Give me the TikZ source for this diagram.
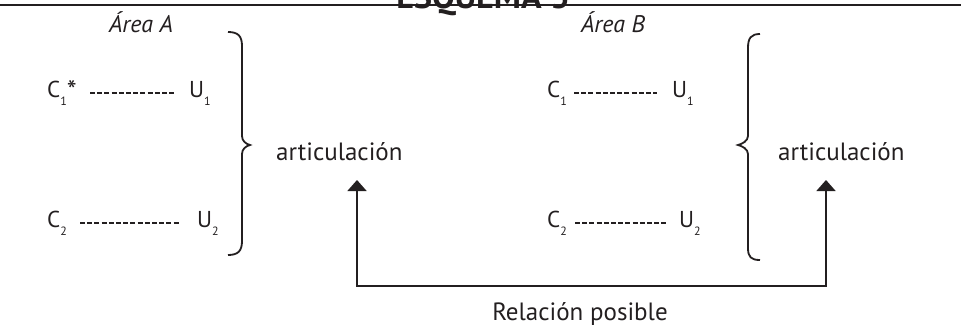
\documentclass[tikz,border=0pt]{standalone}
\usepackage{fontspec}
\setmainfont{PT Sans}
\usetikzlibrary{arrows.meta, positioning}
\definecolor{ink}{RGB}{35,31,32}
\newcommand{\lowidx}[1]{\raisebox{-8pt}{\fontsize{12}{12}\selectfont #1}}
\newcommand{\bigstar}{\raisebox{-3pt}{\fontsize{28}{28}\selectfont *}}
\tikzset{
  word_font/.style = {font=\fontsize{25}{30}\selectfont},
  term_font/.style = {font=\fontsize{23}{27}\selectfont},
  area_font/.style = {font=\fontsize{24}{29}\selectfont\itshape},
  title_font/.style = {font=\fontsize{34}{40}\selectfont\bfseries}
}
\tikzset{
  title/.style = {title_font, inner sep=0, anchor=base},
  area/.style = {area_font, inner sep=0, anchor=base},
  term/.style = {term_font, inner sep=0, anchor=base west},
  word/.style = {word_font, inner sep=0, anchor=base west},
  link/.style = {dash pattern=on 5pt off 2.2pt, line width=1.1pt},
  brace/.style = {line width=1.8pt},
  relation/.style = {line width=1.7pt,
    {Triangle[width=19pt, length=11pt]}-{Triangle[width=19pt, length=11pt]}}
}
\begin{document}
\begin{tikzpicture}[x=1pt, y=-1pt, color=ink, text=ink]
    \useasboundingbox (0,0) rectangle (961,329);

    % Heading
    \draw[line width=1.4pt] (0,5) -- (961,5);
    \node[title] (head) at (483,9) {ESQUEMA 3};

    % Areas
    \node[area] (area_a) at (141,33) {Área A};
    \node[area] (area_b) at (613,33) {Área B};

    % Terms of area A
    \node[term] (c1_a) at (47,97) {C\lowidx{1}\bigstar};
    \node[term] (u1_a) at (189,97) {U\lowidx{1}};
    \node[term] (c2_a) at (47,227) {C\lowidx{2}};
    \node[term] (u2_a) at (197,227) {U\lowidx{2}};

    % Terms of area B
    \node[term] (c1_b) at (547,97) {C\lowidx{1}};
    \node[term] (u1_b) at (672,97) {U\lowidx{1}};
    \node[term] (c2_b) at (547,227) {C\lowidx{2}};
    \node[term] (u2_b) at (679,227) {U\lowidx{2}};

    % Articulations
    \node[word] (art_a) at (276,160) {articulación};
    \node[word] (art_b) at (778,160) {articulación};
    \node[word, anchor=base] (rel) at (580,320) {Relación posible};

    % Dashed links
    \draw[link] ([xshift=43pt, yshift=4pt]c1_a.base west) -- ([xshift=-14pt, yshift=4pt]u1_a.base west);
    \draw[link] ([xshift=33pt, yshift=4pt]c2_a.base west) -- ([xshift=-17pt, yshift=4pt]u2_a.base west);
    \draw[link] ([xshift=27pt, yshift=4pt]c1_b.base west) -- ([xshift=-15pt, yshift=4pt]u1_b.base west);
    \draw[link] ([xshift=28pt, yshift=4pt]c2_b.base west) -- ([xshift=-11pt, yshift=4pt]u2_b.base west);

    % Braces
    \draw[brace] (228,32) .. controls (238,32) and (242,36) .. (242,46) -- (242,136)
        .. controls (242,141) and (246,144) .. (250,145)
        .. controls (246,146) and (242,149) .. (242,154) -- (242,241)
        .. controls (242,251) and (238,255) .. (228,255);
    \draw[brace] (760,34) .. controls (751,34) and (748,38) .. (748,48) -- (748,136)
        .. controls (748,141) and (742,144) .. (738,145)
        .. controls (742,146) and (748,149) .. (748,154) -- (748,248)
        .. controls (748,257) and (751,260) .. (760,260);

    % Possible relation
    \draw[relation] ([xshift=81pt, yshift=-20pt]art_a.base west) |- ([yshift=34pt]rel.base)
        -| ([xshift=48pt, yshift=-20pt]art_b.base west);
\end{tikzpicture}
\end{document}
